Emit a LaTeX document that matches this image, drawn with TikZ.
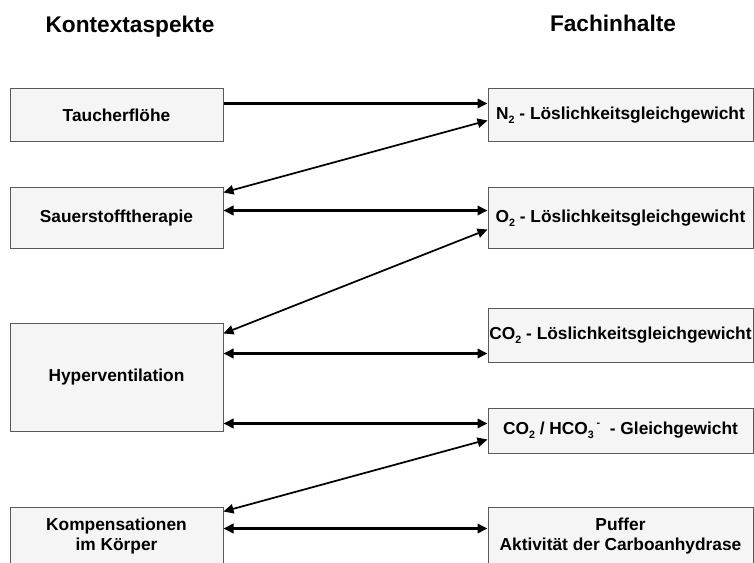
\documentclass[tikz,border=0pt]{standalone}
\usepackage{fontspec}
\setmainfont{Liberation Sans}
\usetikzlibrary {arrows.meta, positioning, calc}
\tikzset{
    >={Triangle[length=7.5pt, width=7pt]}
}
\newcommand{\chemsub}[1]{\raisebox{-0.4ex}{\fontsize{8}{8}\selectfont #1}}
\newcommand{\chemsup}[1]{\raisebox{0.9ex}{\fontsize{8}{8}\selectfont #1}}

\begin{document}
\begin{tikzpicture}[x=0.75pt, y=-0.75pt,
    box/.style={draw=black!65, fill=black!4, line width=0.75pt, inner sep=0pt,
        align=center, font=\bfseries\fontsize{13}{15}\selectfont},
    head/.style={anchor=base, font=\bfseries\fontsize{17}{19}\selectfont},
    mainlink/.style={line width=2.1pt},
    sidelink/.style={line width=1.3pt}]
    % frame
    \clip (0, 0) rectangle (754, 563);
    % headings
    \node[head] (kontext) at (130, 33) {Kontextaspekte};
    \node[head] (fach) at (613, 31.5) {Fachinhalte};
    % left column
    \node[box, minimum width=159.75pt, minimum height=39.75pt] (tauch) at (116.5, 115.5) {Taucherflöhe};
    \node[box, minimum width=159.75pt, minimum height=45.75pt] (sauer) at (116.5, 218.5) {Sauerstofftherapie};
    \node[box, minimum width=159.75pt, minimum height=80.25pt] (hyper) at (116.5, 377.5) {Hyperventilation};
    \node[box, minimum width=159.75pt, minimum height=44.25pt] (kompens) at (116.5, 536.5) {Kompensationen\\im Körper};
    % right column
    \node[box, minimum width=198.75pt, minimum height=39.75pt] (n2) at (620.5, 115.5) {N\chemsub{2} - Löslichkeitsgleichgewicht};
    \node[box, minimum width=198.75pt, minimum height=45.75pt] (o2) at (620.5, 218.5) {O\chemsub{2} - Löslichkeitsgleichgewicht};
    \node[box, minimum width=198.75pt, minimum height=39.75pt] (co2) at (620.5, 335.5) {CO\chemsub{2} - Löslichkeitsgleichgewicht};
    \node[box, minimum width=198.75pt, minimum height=33.75pt] (hco3) at (620.5, 430.5) {CO\chemsub{2} / HCO\chemsub{3}\,\chemsup{-}\ \ - Gleichgewicht};
    \node[box, minimum width=198.75pt, minimum height=44.25pt] (puffer) at (620.5, 536.5) {Puffer\\Aktivität der Carboanhydrase};
    % links
    \draw[mainlink, ->] ($(tauch.north east)+(0, 15)$) -- ($(n2.north west)+(0, 15)$);
    \draw[sidelink, <->] ($(sauer.north east)+(0, 5)$) -- ($(n2.north west)+(0, 32)$);
    \draw[mainlink, <->] ($(sauer.north east)+(0, 23)$) -- ($(o2.north west)+(0, 23)$);
    \draw[sidelink, <->] ($(hyper.north east)+(0, 10)$) -- ($(o2.north west)+(0, 42)$);
    \draw[mainlink, <->] ($(hyper.north east)+(0, 30)$) -- ($(co2.north west)+(0, 45)$);
    \draw[mainlink, <->] ($(hyper.north east)+(0, 100)$) -- ($(hco3.north west)+(0, 16)$);
    \draw[sidelink, <->] ($(kompens.north east)+(0, 5)$) -- ($(hco3.north west)+(0, 32)$);
    \draw[mainlink, <->] ($(kompens.north east)+(0, 22)$) -- ($(puffer.north west)+(0, 22)$);
\end{tikzpicture}
\end{document}
